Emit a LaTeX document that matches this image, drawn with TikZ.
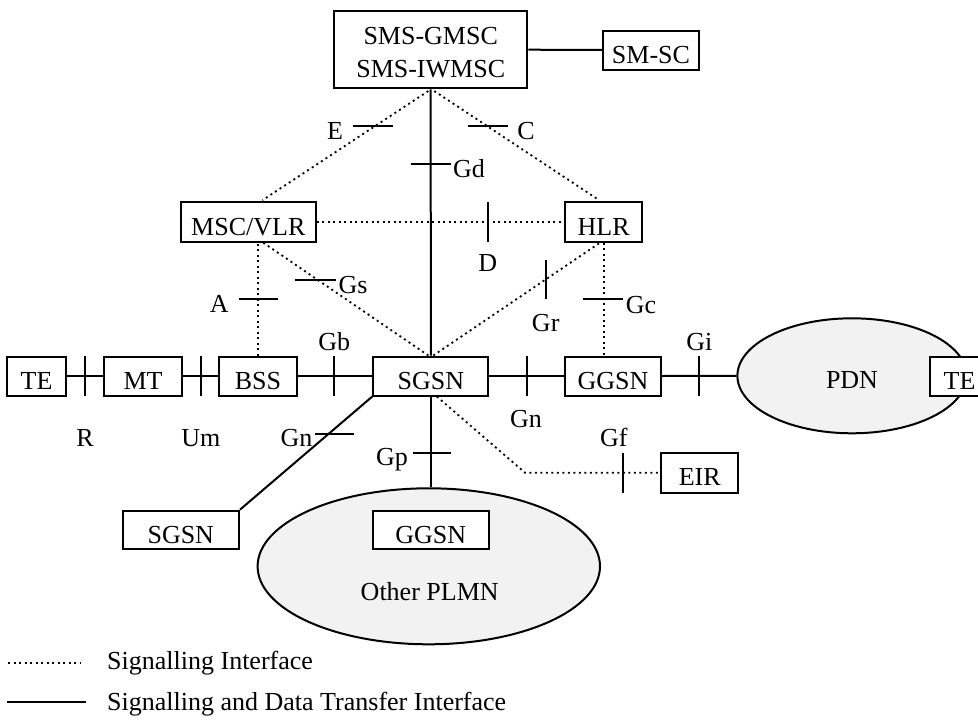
\documentclass[tikz,border=0pt]{standalone}
\usepackage{fontspec}
\setmainfont{Liberation Serif}
\usetikzlibrary{shapes.geometric}
\definecolor{ellfill}{HTML}{F2F2F2}
\begin{document}
\begin{tikzpicture}[x=1pt,y=-1pt,
  every node/.style={font=\fontsize{26}{33}\selectfont},
  box/.style={draw, line width=2pt, fill=white, inner sep=0pt, text height=26pt, text depth=0pt},
  cloud/.style={draw, ellipse, line width=2pt, fill=ellfill, inner sep=0pt},
  sig/.style={line width=1.8pt, dash pattern=on 2pt off 3.5pt},
  dat/.style={line width=2pt},
  tick/.style={line width=2pt},
  lab/.style={anchor=base, inner sep=0pt}
]
\useasboundingbox (0,0) rectangle (978,720);

% clouds
\node[cloud, minimum width=229.2pt, minimum height=115pt, text height=26pt, text depth=0pt] (pdn) at (852,375.8) {PDN};
\node[cloud, minimum width=342.4pt, minimum height=156pt] (plmn) at (428.8,566.3) {};
\node[lab] (plmntxt) at (429.7,600) {Other PLMN};

% boxes
\node[box, minimum width=59pt, minimum height=39pt] (te1) at (36.5,376) {TE};
\node[box, minimum width=78pt, minimum height=39pt] (mt) at (143,376) {MT};
\node[box, minimum width=77.4pt, minimum height=39pt] (bss) at (258,376) {BSS};
\node[box, minimum width=115pt, minimum height=39pt] (sgsn) at (430.8,376) {SGSN};
\node[box, minimum width=96pt, minimum height=39pt] (ggsn) at (613,376) {GGSN};
\node[box, minimum width=59pt, minimum height=39pt] (te2) at (959.5,376) {TE};
\node[box, minimum width=134.7pt, minimum height=39.4pt] (msc) at (248.3,222) {MSC/VLR};
\node[box, minimum width=77.3pt, minimum height=39.4pt] (hlr) at (603.7,222) {HLR};
\node[draw, line width=2pt, fill=white, inner sep=0pt, align=center, minimum width=193.3pt, minimum height=77.3pt] (sms) at (430.7,49.7) {\rule{0pt}{22.2pt}SMS-GMSC\\SMS-IWMSC};
\node[box, minimum width=96pt, minimum height=39pt] (smsc) at (651,50) {SM-SC};
\node[box, minimum width=77.3pt, minimum height=40pt] (eir) at (699.7,472.7) {EIR};
\node[box, minimum width=116.3pt, minimum height=38.6pt] (sgsn2) at (180.8,530) {SGSN};
\node[box, minimum width=116.3pt, minimum height=38.6pt] (ggsn2) at (430.8,530) {GGSN};

% solid connectors
\draw[dat] (sms.east) -- (smsc.west);
\draw[dat] (sms.south) -- (sgsn.north);
\draw[dat] (te1.east) -- (mt.west);
\draw[dat] (mt.east) -- (bss.west);
\draw[dat] (bss.east) -- (sgsn.west);
\draw[dat] (sgsn.east) -- (ggsn.west);
\draw[dat] (ggsn.east) -- (pdn.west);
\draw[dat] (sgsn.south west) -- (sgsn2.north east);
\draw[dat] (sgsn.south) -- (sgsn.south |- plmn.north);

% signalling connectors
\draw[sig] ([xshift=-2.4pt,yshift=-1.7pt]sms.south) -- ([xshift=14pt,yshift=1pt]msc.north);
\draw[sig] ([xshift=3.6pt,yshift=-1.7pt]sms.south) -- ([xshift=-4.4pt,yshift=1pt]hlr.north);
\draw[sig] (msc.east) -- (hlr.west);
\draw[sig] (bss.north) -- (bss.north |- msc.south);
\draw[sig] ([xshift=15pt]msc.south) -- ([xshift=-2.5pt]sgsn.north);
\draw[sig] ([xshift=2.5pt]sgsn.north) -- ([xshift=-3.7pt]hlr.south);
\draw[sig] (hlr.south) -- (hlr.south |- ggsn.north);
\coordinate (eirbend) at (525,472.7);
\draw[sig] ([xshift=6pt]sgsn.south) -- (eirbend) -- (eir.west);

% interface ticks
\draw[tick] (85,356) -- (85,396);
\draw[tick] (200.7,356) -- (200.7,396);
\draw[tick] (334.3,356) -- (334.3,396);
\draw[tick] (526.5,356) -- (526.5,396);
\draw[tick] (699.3,356) -- (699.3,396);
\draw[tick] (488.3,202) -- (488.3,242);
\draw[tick] (546,260) -- (546,299.3);
\draw[tick] (622.7,453.3) -- (622.7,492.7);
\draw[tick] (352.7,126) -- (392.7,126);
\draw[tick] (467.7,126) -- (507.7,126);
\draw[tick] (410.7,164.3) -- (450.7,164.3);
\draw[tick] (239,299) -- (277.7,299);
\draw[tick] (295,280) -- (335.7,280);
\draw[tick] (583.3,299) -- (623.3,299);
\draw[tick] (315,434) -- (354.3,434);
\draw[tick] (412.7,452.7) -- (450.7,452.7);

% interface labels
\node[lab] (lE) at (335,139.5) {E};
\node[lab] (lC) at (526,139.5) {C};
\node[lab] (lGd) at (469,177) {Gd};
\node[lab] (lD) at (487.7,271) {D};
\node[lab] (lGs) at (353,293) {Gs};
\node[lab] (lA) at (219.3,312) {A};
\node[lab] (lGr) at (545.7,331) {Gr};
\node[lab] (lGc) at (641,313) {Gc};
\node[lab] (lGb) at (334.3,350) {Gb};
\node[lab] (lGi) at (699.3,350) {Gi};
\node[lab] (lGn) at (526,427) {Gn};
\node[lab] (lGf) at (613.8,446) {Gf};
\node[lab] (lR) at (85,446) {R};
\node[lab] (lUm) at (200.8,446) {Um};
\node[lab] (lGn2) at (296.5,446) {Gn};
\node[lab] (lGp) at (392,465) {Gp};

% legend
\coordinate (lg1a) at (8,663);
\coordinate (lg1b) at (80,663);
\coordinate (lg2a) at (7,702);
\coordinate (lg2b) at (86,702);
\draw[sig] (lg1a) -- (lg1b);
\draw[dat] (lg2a) -- (lg2b);
\node[lab, anchor=base west] (lgt1) at (107,669) {Signalling Interface};
\node[lab, anchor=base west] (lgt2) at (107,710) {Signalling and Data Transfer Interface};
\end{tikzpicture}
\end{document}
